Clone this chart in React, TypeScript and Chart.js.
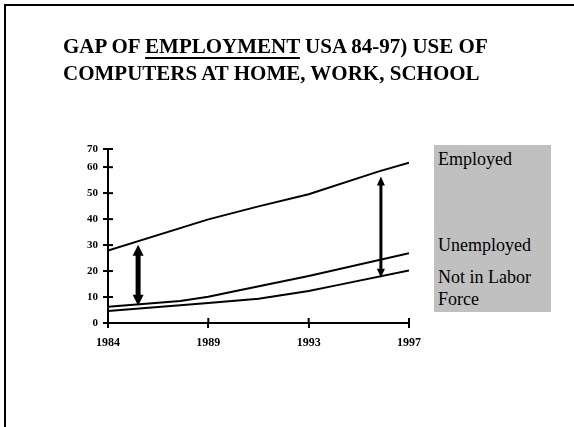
import React, { useEffect, useRef } from "react";
import { Chart, registerables } from "chart.js";

Chart.register(...registerables);

// ---- data ----
const xTickLabels = ["1984", "1989", "1993", "1997"];
const yTickValues = [0, 10, 20, 30, 40, 50, 60, 67];
const yTickLabels = ["0", "10", "20", "30", "40", "50", "60", "70"];

const employedX = [0, 1, 1.5, 2, 2.7, 3];
const employedY = [27.9, 39.9, 44.9, 49.6, 58.4, 61.7];
const unemployedX = [0, 0.72, 1, 1.25, 2, 3];
const unemployedY = [6.3, 8.5, 10.1, 12.1, 18.1, 26.9];
const notInLaborX = [0, 1, 1.5, 2, 2.25, 3];
const notInLaborY = [4.6, 7.7, 9.3, 12.3, 14.3, 20.2];

const arrowX = [0.3, 2.72];
const arrowTop = [30.1, 56.4];
const arrowBottom = [6.6, 17.4];

const legendLabels = ["Employed", "Unemployed", "Not in Labor", "Force"];

const SERIF = '"Liberation Serif", "Times New Roman", serif';

const pts = (xs: number[], ys: number[]) => xs.map((x, i) => ({ x, y: ys[i] }));

const innerTicks = {
  id: "innerTicks",
  afterDraw(chart: any) {
    const { ctx, chartArea, scales } = chart;
    ctx.save();
    ctx.strokeStyle = "#000";
    ctx.lineWidth = 2;
    scales.y.ticks.forEach((t: any) => {
      const y = scales.y.getPixelForValue(t.value);
      ctx.beginPath();
      ctx.moveTo(chartArea.left, y);
      ctx.lineTo(chartArea.left + 5, y);
      ctx.stroke();
    });
    scales.x.ticks.forEach((t: any) => {
      const x = scales.x.getPixelForValue(t.value);
      ctx.beginPath();
      ctx.moveTo(x, chartArea.bottom);
      ctx.lineTo(x, chartArea.bottom - 5);
      ctx.stroke();
    });
    ctx.restore();
  },
};

const arrows = {
  id: "arrows",
  afterDatasetsDraw(chart: any, _args: any, opts: any) {
    const { ctx, scales } = chart;
    ctx.save();
    ctx.fillStyle = "#000";
    ctx.strokeStyle = "#000";
    arrowX.forEach((xv, i) => {
      const x = scales.x.getPixelForValue(xv);
      const yt = scales.y.getPixelForValue(arrowTop[i]);
      const yb = scales.y.getPixelForValue(arrowBottom[i]);
      const w = opts.shaft[i];
      const hw = opts.head[i];
      const hl = opts.headLen[i];
      ctx.lineWidth = w;
      ctx.beginPath();
      ctx.moveTo(x, yt + hl - 1);
      ctx.lineTo(x, yb - hl + 1);
      ctx.stroke();
      ctx.beginPath();
      ctx.moveTo(x, yt);
      ctx.lineTo(x - hw / 2, yt + hl);
      ctx.lineTo(x + hw / 2, yt + hl);
      ctx.closePath();
      ctx.fill();
      ctx.beginPath();
      ctx.moveTo(x, yb);
      ctx.lineTo(x - hw / 2, yb - hl);
      ctx.lineTo(x + hw / 2, yb - hl);
      ctx.closePath();
      ctx.fill();
    });
    ctx.restore();
  },
};

export default function App() {
  const ref = useRef<HTMLCanvasElement | null>(null);

  useEffect(() => {
    if (!ref.current) return;
    const lineStyle = {
      borderColor: "#000",
      borderWidth: 2,
      pointRadius: 0,
      tension: 0,
      fill: false,
    };
    const chart = new Chart(ref.current, {
      type: "line",
      data: {
        datasets: [
          { label: "Employed", data: pts(employedX, employedY), ...lineStyle },
          { label: "Unemployed", data: pts(unemployedX, unemployedY), ...lineStyle },
          { label: "Not in Labor Force", data: pts(notInLaborX, notInLaborY), ...lineStyle },
        ],
      },
      options: {
        animation: false,
        responsive: false,
        layout: { padding: { left: 0, right: 165, top: 149, bottom: 0 } },
        plugins: {
          legend: { display: false },
          tooltip: { enabled: false },
          arrows: { shaft: [5, 3], head: [11, 8], headLen: [11, 9] },
        } as any,
        scales: {
          x: {
            type: "linear",
            min: 0,
            max: 3,
            ticks: {
              stepSize: 1,
              callback: (v: any) => xTickLabels[v] ?? "",
              color: "#000",
              font: { family: SERIF, weight: "bold", size: 12 },
              padding: 8,
              maxRotation: 0,
            },
            grid: { drawOnChartArea: false, color: "#000", lineWidth: 2, tickLength: 5 },
            border: { display: true, color: "#000", width: 2 },
            afterFit: (s: any) => {
              s.height = 427 - 323;
            },
          },
          y: {
            type: "linear",
            min: 0,
            max: 67,
            afterBuildTicks: (s: any) => {
              s.ticks = yTickValues.map((v) => ({ value: v }));
            },
            ticks: {
              callback: (v: any) => {
                const i = yTickValues.indexOf(v);
                return i >= 0 ? yTickLabels[i] : "";
              },
              color: "#000",
              font: { family: SERIF, weight: "bold", size: 11 },
              padding: 5,
            },
            grid: { drawOnChartArea: false, color: "#000", lineWidth: 2, tickLength: 5 },
            border: { display: true, color: "#000", width: 2 },
            afterFit: (s: any) => {
              s.width = 108;
            },
          },
        },
      },
      plugins: [innerTicks, arrows],
    });
    return () => chart.destroy();
  }, []);

  return (
    <div style={{ position: "fixed", left: 0, top: 0, width: 574, height: 427, background: "#fff", overflow: "hidden" }}>
      <div
        style={{
          position: "absolute",
          left: 4,
          top: 4,
          width: 600,
          height: 460,
          borderTop: "2px solid #000",
          borderLeft: "2px solid #000",
        }}
      />
      <canvas ref={ref} width={574} height={427} style={{ position: "absolute", left: 0, top: 0, width: 574, height: 427 }} />
      <div
        style={{
          position: "absolute",
          left: 63,
          top: 33,
          fontFamily: SERIF,
          fontWeight: "bold",
          fontSize: 21,
          lineHeight: "27px",
          color: "#000",
          whiteSpace: "nowrap",
        }}
      >
        <div>
          GAP OF{" "}
          <span style={{ textDecoration: "underline", textDecorationThickness: "2px", textUnderlineOffset: "4px" }}>
            EMPLOYMENT
          </span>{" "}
          USA 84-97) USE OF
        </div>
        <div>COMPUTERS AT HOME, WORK, SCHOOL</div>
      </div>
      <div
        style={{
          position: "absolute",
          left: 434,
          top: 145,
          width: 117,
          height: 167,
          background: "#c0c0c0",
          fontFamily: SERIF,
          fontSize: 18,
          lineHeight: "22px",
          color: "#000",
        }}
      >
        <div style={{ position: "absolute", left: 4, top: 3 }}>{legendLabels[0]}</div>
        <div style={{ position: "absolute", left: 4, top: 89 }}>{legendLabels[1]}</div>
        <div style={{ position: "absolute", left: 4, top: 121, whiteSpace: "nowrap" }}>{legendLabels[2]}</div>
        <div style={{ position: "absolute", left: 4, top: 143 }}>{legendLabels[3]}</div>
      </div>
    </div>
  );
}
